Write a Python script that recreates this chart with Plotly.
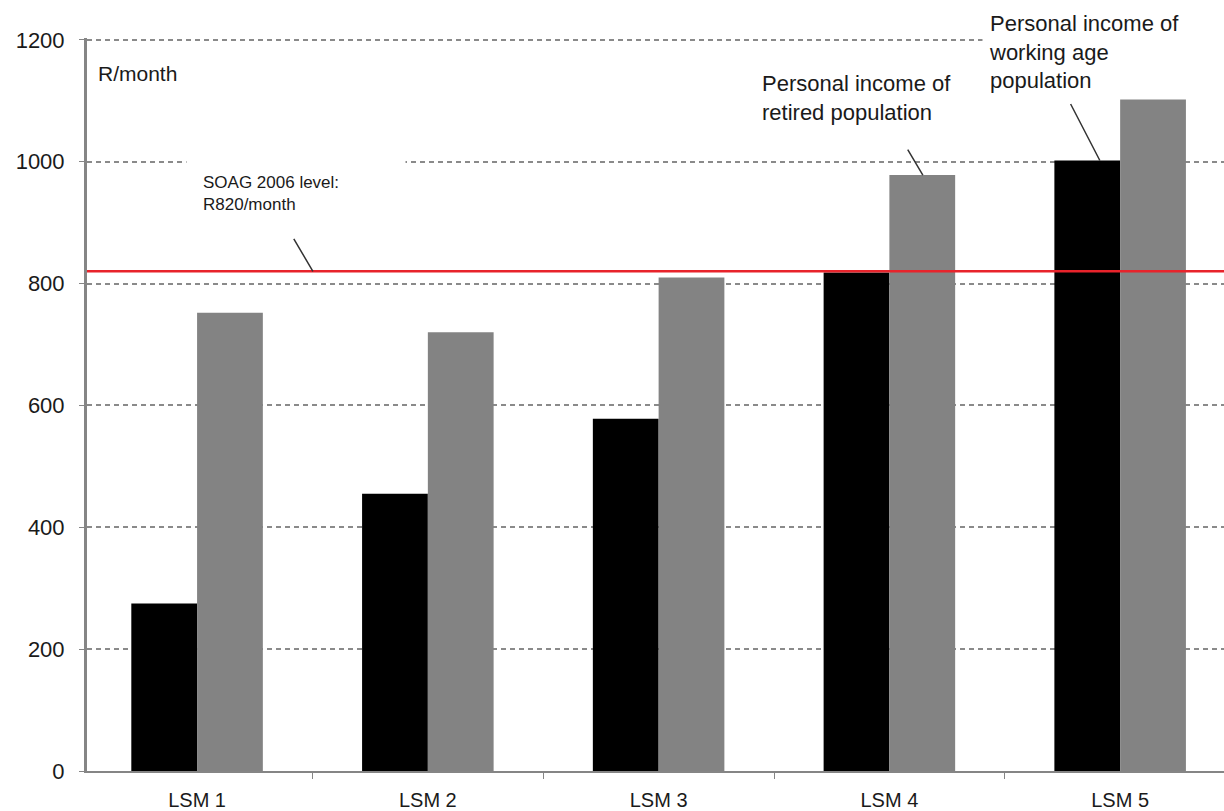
import plotly.graph_objects as go

# LSM groups and monthly personal income (R/month)
categories = ["LSM 1", "LSM 2", "LSM 3", "LSM 4", "LSM 5"]
working_age_income = [275, 455, 578, 818, 1002]
retired_income = [752, 720, 810, 978, 1105]
soag_level = 820
y_ticks = [0, 200, 400, 600, 800, 1000, 1200]

FONT = "Liberation Sans, Arial, sans-serif"
TEXT = "#1a1a1a"
AXIS = "#858585"

fig = go.Figure()
fig.add_trace(go.Bar(x=categories, y=working_age_income, name="Working age",
                     marker=dict(color="#000000", line=dict(width=0))))
fig.add_trace(go.Bar(x=categories, y=retired_income, name="Retired",
                     marker=dict(color="#838383", line=dict(width=0))))

# SOAG reference line
fig.add_shape(type="line", xref="paper", x0=0, x1=1, yref="y",
              y0=soag_level, y1=soag_level,
              line=dict(color="#e8232b", width=2.5), layer="above")

arrow = dict(showarrow=True, arrowhead=0, arrowwidth=1.5, arrowcolor="#333333",
             axref="pixel", ayref="pixel", text="")

fig.update_layout(
    width=1224, height=811,
    margin=dict(l=87, r=0, t=38, b=40),
    plot_bgcolor="white", paper_bgcolor="white",
    barmode="group", bargap=0.43, bargroupgap=0,
    showlegend=False,
    font=dict(family=FONT, size=16, color=TEXT),
    xaxis=dict(range=[-0.477, 4.45], showline=True, linecolor=AXIS, linewidth=2,
               ticks="outside", tickson="boundaries", ticklen=6, tickcolor=AXIS,
               showgrid=False, automargin=False, ticklabelstandoff=10,
               tickfont=dict(family=FONT, size=20, color=TEXT)),
    yaxis=dict(range=[0, 1203], tickvals=y_ticks, showline=True, linecolor=AXIS,
               linewidth=3, ticks="outside", ticklen=5, tickcolor=AXIS,
               showgrid=True, gridcolor="#8a8a8a", gridwidth=1.6,
               griddash="5px,4px", zeroline=False, automargin=False,
               ticklabelstandoff=10,
               tickfont=dict(family=FONT, size=22, color=TEXT)),
    annotations=[
        dict(text="R/month", xref="paper", x=0.008, yref="y", y=1145,
             xanchor="left", yanchor="middle", showarrow=False,
             font=dict(family=FONT, size=21, color=TEXT)),
        dict(text="SOAG 2006 level:<br>R820/month", xref="x", x=-0.049, yref="y",
             y=1010, xanchor="left", yanchor="top", align="left", width=186,
             showarrow=False, bgcolor="white", borderpad=16,
             font=dict(family=FONT, size=17, color=TEXT)),
        dict(text="Personal income of<br>retired population", xref="x", x=2.425,
             yref="y", y=1157, xanchor="left", yanchor="top", align="left",
             showarrow=False, bgcolor="white", borderpad=4,
             font=dict(family=FONT, size=22, color=TEXT)),
        dict(text="Personal income of<br>working age<br>population", xref="x",
             x=3.40, yref="paper", y=1.046, xanchor="left", yanchor="top",
             align="left", showarrow=False, bgcolor="white", borderpad=6,
             width=250, font=dict(family=FONT, size=22, color=TEXT)),
        dict(x=0.502, y=soag_level, ax=-20, ay=-34, **arrow),
        dict(x=3.145, y=retired_income[3], ax=-16, ay=-27, **arrow),
        dict(x=3.912, y=working_age_income[4], ax=-30, ay=-58, **arrow),
    ],
)

fig.write_html("out.html")
